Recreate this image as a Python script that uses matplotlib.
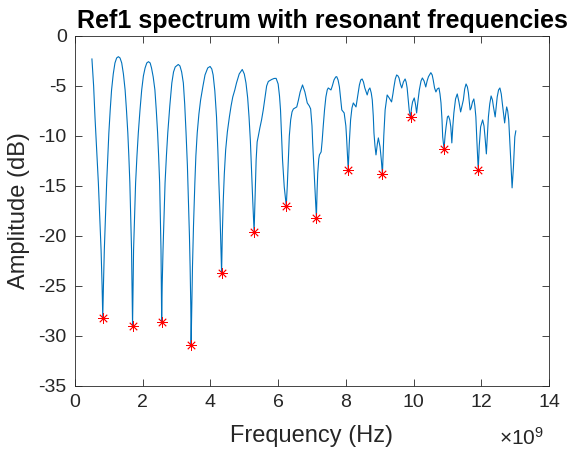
import matplotlib
matplotlib.use("Agg")
import matplotlib.pyplot as plt
from matplotlib.ticker import FixedFormatter

plt.rcParams['font.family'] = ['Liberation Sans', 'DejaVu Sans']
plt.rcParams['mathtext.fontset'] = 'custom'
plt.rcParams['mathtext.rm'] = 'Liberation Sans'
plt.rcParams['mathtext.it'] = 'Liberation Sans'
plt.rcParams['axes.unicode_minus'] = False

# Spectrum (frequency in units of 1e9 Hz, amplitude in dB)
spectrum_freq = [
    0.50, 0.55, 0.59, 0.64, 0.69, 0.73, 0.77, 0.80, 0.82,
    0.84, 0.866, 0.90, 0.935, 0.97, 1.00, 1.04, 1.08, 1.13, 1.18, 1.23, 1.28, 1.33, 1.38, 1.43, 1.48,
    1.52, 1.56, 1.59, 1.62, 1.645, 1.67, 1.685, 1.70,
    1.715, 1.73, 1.76, 1.79, 1.83, 1.87, 1.92, 1.97, 2.02, 2.07, 2.12, 2.17, 2.22, 2.26, 2.31, 2.36,
    2.40, 2.44, 2.47, 2.50, 2.52, 2.54, 2.55, 2.56,
    2.575, 2.60, 2.63, 2.66, 2.70, 2.74, 2.80, 2.86, 2.91, 2.96, 3.05, 3.10, 3.15, 3.20, 3.24, 3.28,
    3.32, 3.35, 3.38, 3.40, 3.42, 3.43,
    3.45, 3.47, 3.50, 3.54, 3.57, 3.61, 3.66, 3.71, 3.78, 3.84, 3.92, 3.99, 4.04, 4.08, 4.13, 4.18,
    4.22, 4.25, 4.28, 4.30, 4.33,
    4.35, 4.38, 4.41, 4.45, 4.50, 4.56, 4.61, 4.66, 4.72, 4.77, 4.85, 4.94, 5.00, 5.05, 5.10, 5.14,
    5.18, 5.21, 5.25, 5.29,
    5.32, 5.35, 5.38, 5.41, 5.46, 5.51, 5.56, 5.61, 5.66, 5.71, 5.81, 5.88, 5.94, 6.00, 6.04, 6.07,
    6.10, 6.13, 6.18, 6.24,
    6.27, 6.30, 6.33, 6.37, 6.41, 6.45, 6.55, 6.60, 6.65, 6.72, 6.79, 6.86, 6.92, 6.96, 7.00, 7.02,
    7.06, 7.09, 7.13,
    7.15, 7.17, 7.20, 7.22, 7.27, 7.30, 7.33, 7.37, 7.41, 7.45, 7.48, 7.56, 7.60, 7.65, 7.70, 7.73,
    7.77, 7.81, 7.85, 7.88, 7.95, 8.00, 8.02, 8.05, 8.07,
    8.10, 8.14, 8.18, 8.22, 8.26, 8.30, 8.35, 8.40, 8.44, 8.48, 8.52, 8.56, 8.63, 8.67, 8.71, 8.75,
    8.78, 8.81, 8.83, 8.86, 8.89, 8.93, 8.96, 9.01, 9.05, 9.08,
    9.12, 9.16, 9.22, 9.28, 9.35, 9.39, 9.42, 9.46, 9.50, 9.54, 9.57, 9.61, 9.65, 9.70, 9.75, 9.78,
    9.81, 9.84, 9.87, 9.91,
    9.94, 9.97, 10.02, 10.06, 10.09, 10.13, 10.17, 10.22, 10.26, 10.31, 10.36, 10.40, 10.44, 10.51,
    10.55, 10.58, 10.62, 10.66, 10.70, 10.75, 10.78, 10.81, 10.84, 10.86, 10.90,
    10.93, 10.96, 11.00, 11.03, 11.07, 11.10, 11.13, 11.16, 11.19, 11.24, 11.29, 11.34, 11.39, 11.43,
    11.47, 11.51, 11.55, 11.59, 11.62, 11.67, 11.70, 11.74, 11.78, 11.81, 11.84, 11.87, 11.91,
    11.94, 11.98, 12.04, 12.08, 12.11, 12.15, 12.18, 12.21, 12.25, 12.29, 12.33, 12.36, 12.41, 12.44,
    12.47, 12.51, 12.55, 12.59, 12.62, 12.66, 12.69, 12.72, 12.75, 12.78, 12.81, 12.84, 12.87, 12.91,
    12.95, 12.99, 13.02,
]
spectrum_db = [
    -2.3, -5.0, -8.1, -11.3, -14.7, -18.0, -21.4, -25.0, -28.2,
    -25.0, -21.4, -18.0, -14.7, -12.0, -9.7, -7.4, -5.4, -3.8, -2.7, -2.2, -2.07, -2.2, -2.7, -3.8, -5.4,
    -7.4, -9.7, -12.0, -14.7, -18.0, -21.4, -25.0, -29.0,
    -25.0, -21.4, -18.0, -14.7, -12.0, -9.7, -7.4, -5.4, -4.0, -3.2, -2.7, -2.57, -2.7, -3.2, -4.1, -5.4,
    -7.4, -9.7, -12.0, -14.7, -18.0, -21.4, -25.0, -28.6,
    -25.0, -21.4, -18.0, -14.7, -12.0, -9.7, -7.0, -4.7, -3.6, -3.1, -2.85, -3.0, -3.6, -4.7, -6.8, -9.7,
    -13.0, -16.4, -20.0, -23.1, -27.0, -30.9,
    -27.0, -23.1, -19.0, -14.7, -12.0, -9.7, -7.8, -6.4, -5.0, -3.9, -3.2, -3.05, -3.3, -3.9, -5.5, -8.1,
    -11.5, -14.7, -17.5, -20.1, -23.7,
    -20.0, -16.4, -13.8, -11.4, -9.6, -8.1, -7.0, -6.1, -5.4, -4.7, -3.8, -3.35, -3.8, -4.7, -6.2, -8.1,
    -10.5, -13.1, -16.5, -19.6,
    -16.0, -12.4, -10.6, -10.1, -9.2, -8.4, -7.4, -6.2, -5.0, -4.55, -4.35, -4.25, -4.24, -4.8, -6.0, -7.4,
    -9.8, -12.4, -15.1, -17.0,
    -15.0, -12.4, -10.0, -8.4, -7.6, -7.3, -7.1, -6.4, -5.6, -4.9, -5.6, -6.7, -7.0, -7.3, -9.0, -10.7,
    -13.5, -15.7, -18.2,
    -15.5, -13.7, -12.3, -11.9, -11.6, -10.5, -9.1, -7.4, -6.1, -5.4, -5.2, -5.4, -5.0, -4.4, -4.1, -4.07,
    -4.4, -5.1, -6.4, -7.4, -7.7, -9.0, -10.1, -12.0, -13.4,
    -10.8, -8.4, -7.2, -6.7, -6.9, -7.1, -6.0, -4.9, -4.4, -4.3, -4.6, -5.2, -5.9, -5.4, -5.2, -5.7,
    -6.4, -8.0, -9.7, -11.0, -11.9, -10.8, -10.2, -11.1, -12.5, -13.85,
    -10.0, -7.4, -5.9, -6.2, -6.6, -5.8, -5.1, -4.3, -3.9, -4.0, -4.2, -4.8, -5.2, -4.6, -4.3, -4.6,
    -5.2, -6.3, -7.4, -8.15,
    -7.2, -6.6, -6.2, -6.9, -7.7, -6.5, -5.4, -4.5, -4.2, -4.5, -5.1, -4.5, -4.07, -3.67,
    -3.9, -4.4, -5.2, -5.6, -5.3, -5.2, -5.8, -6.7, -8.4, -10.1, -11.3,
    -10.0, -9.1, -8.1, -8.0, -8.4, -9.1, -10.7, -9.0, -7.7, -6.3, -5.8, -6.6, -7.6, -7.0,
    -6.4, -5.3, -4.8, -5.1, -5.7, -7.4, -7.2, -6.6, -6.3, -7.0, -8.1, -10.5, -13.4,
    -11.0, -9.1, -8.4, -9.0, -10.1, -11.8, -10.0, -8.1, -6.8, -6.0, -6.4, -7.1, -8.1, -7.1,
    -6.1, -5.4, -5.2, -5.8, -6.7, -7.8, -8.7, -7.8, -7.1, -7.5, -8.4, -10.3, -12.4, -15.2,
    -13.1, -10.1, -9.5,
]

# Resonant frequencies (units of 1e9 Hz) and their amplitudes (dB)
resonant_freq = [0.82, 1.70, 2.56, 3.43, 4.33, 5.29, 6.24, 7.13, 8.07, 9.08, 9.91, 10.90, 11.91]
resonant_db = [-28.2, -29.0, -28.6, -30.9, -23.7, -19.6, -17.0, -18.2, -13.4, -13.85, -8.15, -11.3, -13.4]

x_ticks = [0, 2, 4, 6, 8, 10, 12, 14]
x_tick_labels = ['0', '2', '4', '6', '8', '10', '12', '14']
y_ticks = [-35, -30, -25, -20, -15, -10, -5, 0]

scale = 1e9
axis_gray = (0.15, 0.15, 0.15)

fig = plt.figure(figsize=(5.69, 4.57), dpi=100)
ax = fig.add_axes([75 / 569, 1 - 385.7 / 457, (549 - 75) / 569, (385.7 - 36) / 457])

ax.plot([f * scale for f in spectrum_freq], spectrum_db, color='#0072BD', lw=0.8,
        solid_joinstyle='round')
ax.plot([f * scale for f in resonant_freq], resonant_db, linestyle='none',
        marker=(8, 2, 0), markersize=7.5, markeredgewidth=0.6, color='red')

ax.set_xlim(0, 14 * scale)
ax.set_ylim(-35, 0)
ax.set_xticks([t * scale for t in x_ticks])
ax.xaxis.set_major_formatter(FixedFormatter(x_tick_labels))
ax.set_yticks(y_ticks)

ax.tick_params(direction='in', length=5, width=0.6, colors=axis_gray, labelsize=14,
               top=True, right=True, pad=6)
for sp in ax.spines.values():
    sp.set_color(axis_gray)
    sp.set_linewidth(0.6)

ax.text(0.99, -0.148, r'$\times10^{9}$', transform=ax.transAxes, ha='right', va='center',
        fontsize=15, color=axis_gray)

ax.set_xlabel('Frequency (Hz)', fontsize=17, color=axis_gray, labelpad=10)
ax.set_ylabel('Amplitude (dB)', fontsize=17, color=axis_gray, labelpad=6)
ax.set_title('Ref1 spectrum with resonant frequencies', fontsize=18, fontweight='bold',
             color='black', pad=6, x=0.521)

fig.savefig('out.png', dpi=100, facecolor='white')
